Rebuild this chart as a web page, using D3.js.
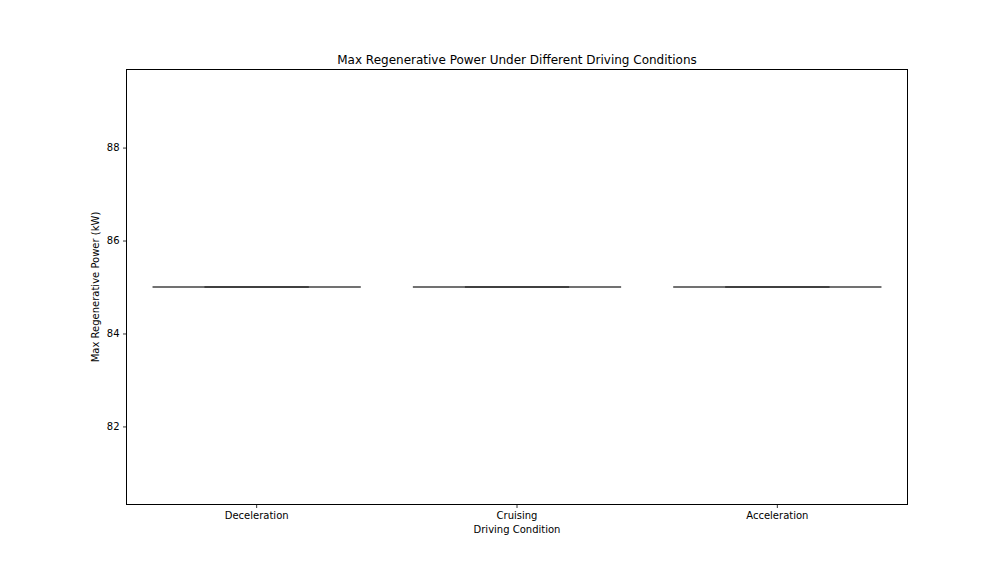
<!DOCTYPE html>
<html><head><meta charset="utf-8">
<script src="https://cdn.jsdelivr.net/npm/d3@7"></script>
<style>body{margin:0;background:#fff}svg{display:block}text{font-family:"DejaVu Sans",sans-serif;fill:#000}</style>
</head><body><svg id="c" width="1008" height="576"></svg>
<script>
const categories = ["Deceleration", "Cruising", "Acceleration"];
const q1 = [85, 85, 85];
const median = [85, 85, 85];
const q3 = [85, 85, 85];
const whiskerLow = [85, 85, 85];
const whiskerHigh = [85, 85, 85];
const yTicks = [82, 84, 86, 88];
const colors = ["#3274a1", "#e1812c", "#3a923a"];

const svg = d3.select("#c");
const m = {l:126.5, r:907.5, t:69.5, b:504.5};
const x = d3.scaleBand().domain(categories).range([m.l, m.r]).padding(0);
const y = d3.scaleLinear().domain([80.32, 89.68]).range([m.b, m.t]);
const lc = "#3f3f3f";

const g = svg.append("g");
categories.forEach((c, i) => {
  const cx = x(c) + x.bandwidth()/2;
  const w = x.bandwidth()*0.8;
  g.append("line").attr("x1",cx).attr("x2",cx).attr("y1",y(q1[i])).attr("y2",y(whiskerLow[i])).attr("stroke",lc).attr("stroke-width",1.5);
  g.append("line").attr("x1",cx).attr("x2",cx).attr("y1",y(q3[i])).attr("y2",y(whiskerHigh[i])).attr("stroke",lc).attr("stroke-width",1.5);
  g.append("rect").attr("x",cx-w/2).attr("width",w).attr("y",y(q3[i])).attr("height",Math.max(0,y(q1[i])-y(q3[i])))
    .attr("fill",colors[i]).attr("stroke",lc).attr("stroke-width",1.5);
  [whiskerLow[i], whiskerHigh[i]].forEach(v => {
    g.append("line").attr("x1",cx-w/4).attr("x2",cx+w/4).attr("y1",y(v)).attr("y2",y(v)).attr("stroke","#333").attr("stroke-width",1.5);
  });
  g.append("line").attr("x1",cx-w/2).attr("x2",cx+w/2).attr("y1",y(median[i])).attr("y2",y(median[i])).attr("stroke","#424242").attr("stroke-width",1.5);
});

const xa = svg.append("g").attr("transform",`translate(0,${m.b})`).call(d3.axisBottom(x).tickSize(3.5).tickPadding(3.5));
const ya = svg.append("g").attr("transform",`translate(${m.l},0)`).call(d3.axisLeft(y).tickValues(yTicks).tickFormat(d3.format("d")).tickSize(3.5).tickPadding(3.5));
[xa, ya].forEach(a => {
  a.select(".domain").remove();
  a.selectAll("text").style("font-size","10px").style("font-family","DejaVu Sans");
  a.selectAll("line").attr("stroke","#000").attr("stroke-width",0.8);
});
svg.append("rect").attr("x",m.l).attr("y",m.t).attr("width",m.r-m.l).attr("height",m.b-m.t)
  .attr("fill","none").attr("stroke","#000").attr("stroke-width",1);

svg.append("text").attr("x",(m.l+m.r)/2).attr("y",m.t-6).attr("text-anchor","middle").style("font-size","12px").text("Max Regenerative Power Under Different Driving Conditions");
svg.append("text").attr("x",(m.l+m.r)/2).attr("y",533).attr("text-anchor","middle").style("font-size","10px").text("Driving Condition");
svg.append("text").attr("transform",`translate(99,${(m.t+m.b)/2}) rotate(-90)`).attr("text-anchor","middle").style("font-size","10px").text("Max Regenerative Power (kW)");
</script></body></html>
